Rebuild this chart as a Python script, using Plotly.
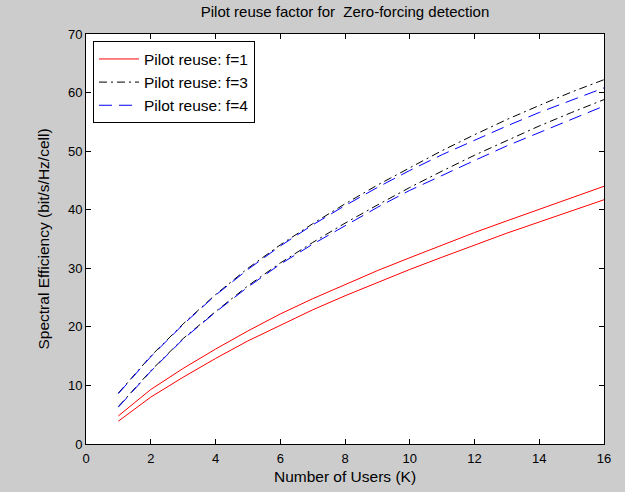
import plotly.graph_objects as go

K = list(range(1, 17))

red_upper = [4.8, 9.3, 12.9, 16.2, 19.3, 22.2, 24.8, 27.2, 29.6, 31.8, 34.0, 36.1, 38.1, 40.1, 42.1, 44.0]
red_lower = [3.9, 8.0, 11.4, 14.6, 17.6, 20.3, 22.9, 25.3, 27.6, 29.8, 31.9, 34.0, 36.0, 37.9, 39.8, 41.7]

black_upper = [8.7, 15.0, 20.5, 25.5, 30.0, 34.0, 37.6, 41.0, 44.2, 47.2, 50.1, 52.8, 55.4, 57.8, 60.1, 62.2]
black_lower = [6.4, 12.5, 18.0, 22.6, 27.0, 30.9, 34.4, 37.7, 40.8, 43.8, 46.6, 49.3, 51.8, 54.3, 56.6, 58.8]

blue_upper = [8.6, 14.9, 20.4, 25.4, 29.8, 33.8, 37.4, 40.7, 43.8, 46.7, 49.4, 51.9, 54.3, 56.6, 58.7, 60.8]
blue_lower = [6.3, 12.4, 17.9, 22.5, 26.8, 30.7, 34.1, 37.3, 40.4, 43.3, 45.9, 48.4, 50.9, 53.2, 55.5, 57.7]

series_names = ["Pilot reuse: f=1", "Pilot reuse: f=3", "Pilot reuse: f=4"]
x_ticks = [0, 2, 4, 6, 8, 10, 12, 14, 16]
y_ticks = [0, 10, 20, 30, 40, 50, 60, 70]

FAM = "Liberation Sans, Arial, sans-serif"

fig = go.Figure()

styles = [
    (series_names[0], [red_upper, red_lower], dict(color="#ff0000", width=1, dash="solid")),
    (series_names[1], [black_upper, black_lower], dict(color="#000000", width=1, dash="8px,4px,2px,4px")),
    (series_names[2], [blue_upper, blue_lower], dict(color="#0000ff", width=1, dash="13px,7px")),
]

for name, curves, line in styles:
    for i, ys in enumerate(curves):
        fig.add_trace(go.Scatter(
            x=K, y=ys, mode="lines", name=name, line=line,
            legendgroup=name, showlegend=(i == 0),
        ))

fig.update_layout(
    width=625, height=492,
    paper_bgcolor="#cccccc",
    plot_bgcolor="#ffffff",
    margin=dict(l=86, r=21, t=34, b=48),
    font=dict(family=FAM, size=13, color="#000000"),
    title=dict(text="Pilot reuse factor for  Zero-forcing detection", x=0.5, xref="paper",
               xanchor="center", y=1, yref="container", yanchor="top", pad=dict(t=6),
               font=dict(family=FAM, size=15, color="#000000")),
    showlegend=True,
    legend=dict(x=0.0135, y=0.982, xanchor="left", yanchor="top",
                bgcolor="#ffffff", bordercolor="#000000", borderwidth=1,
                font=dict(family=FAM, size=15.5, color="#000000"),
                tracegroupgap=0, itemwidth=40),
)

fig.update_xaxes(
    range=[0, 16], tickvals=x_ticks, ticktext=[str(v) for v in x_ticks],
    ticks="inside", ticklen=5, tickcolor="#000000", showline=True, linecolor="#000000",
    linewidth=1, mirror="ticks", showgrid=False, zeroline=False, automargin=False,
    ticklabelstandoff=2,
    title=dict(text="Number of Users (K)", standoff=6, font=dict(family=FAM, size=15.5)),
)
fig.update_yaxes(
    range=[0, 70], tickvals=y_ticks, ticktext=[str(v) for v in y_ticks],
    ticks="inside", ticklen=5, tickcolor="#000000", showline=True, linecolor="#000000",
    linewidth=1, mirror="ticks", showgrid=False, zeroline=False, automargin=False,
    title=dict(text="Spectral Efficiency (bit/s/Hz/cell)", standoff=14, font=dict(family=FAM, size=15.5)),
)

fig.write_html(
    "out.html",
    config={"displayModeBar": False},
    post_script="document.body.style.margin='0';document.body.style.background='#cccccc';",
)
